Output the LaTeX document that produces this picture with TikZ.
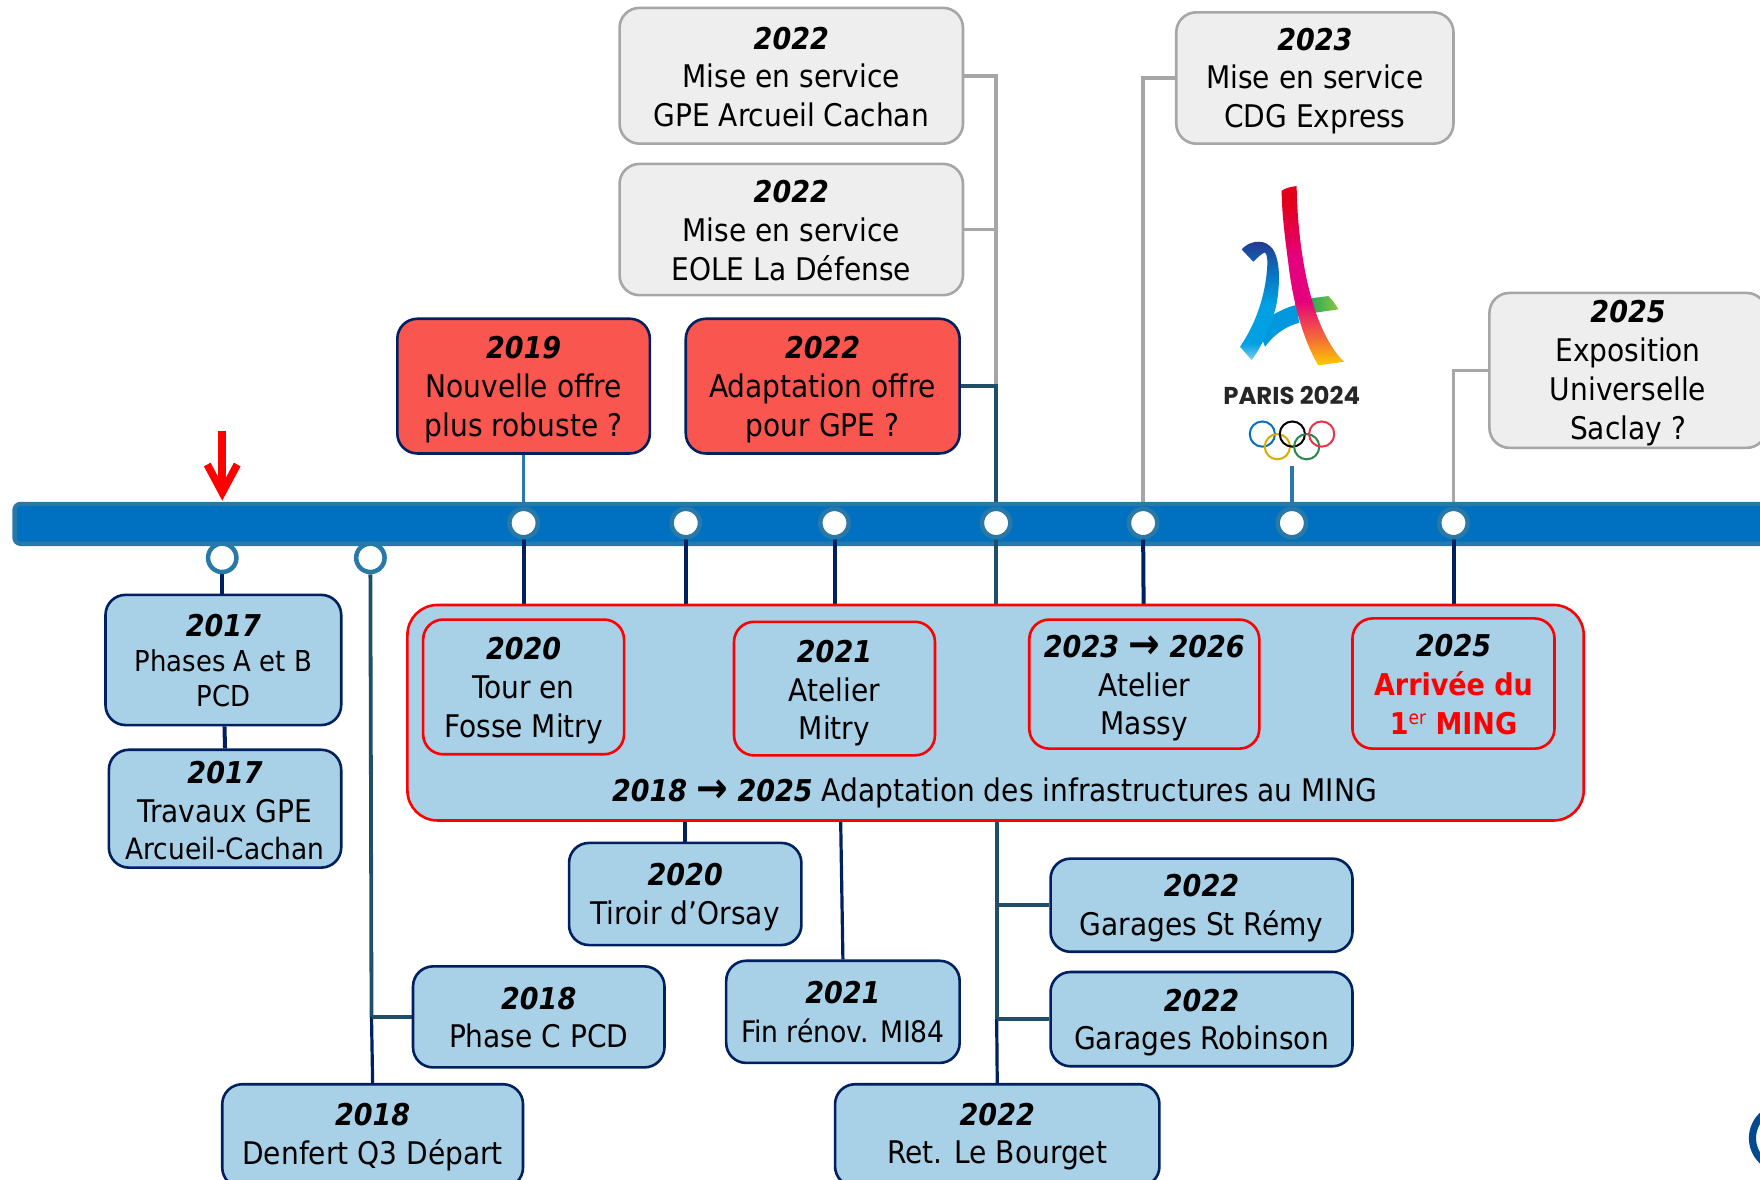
\documentclass[tikz,border=0pt]{standalone}
\usepackage{fontspec}
\setmainfont{DejaVu Sans Condensed}
\newfontfamily\popf{Poppins}
\usetikzlibrary{arrows.meta}
\pgfdeclarelayer{upperc}\pgfdeclarelayer{barl}\pgfdeclarelayer{lowerc}
\pgfsetlayers{upperc,barl,lowerc,main}
\definecolor{navy}{HTML}{002060}
\definecolor{teal1}{HTML}{2878A8}
\definecolor{teal2}{HTML}{1F4E68}
\definecolor{gline}{HTML}{A6A6A6}
\definecolor{gfill}{HTML}{EEEEEE}
\definecolor{rfill}{HTML}{F95650}
\definecolor{bfill}{HTML}{A8D0E6}
\definecolor{barblue}{HTML}{0070C0}
\definecolor{ringblue}{HTML}{004A8F}
\definecolor{lr1}{HTML}{E3001B}\definecolor{lr2}{HTML}{E5007D}\definecolor{lr3}{HTML}{F4663A}\definecolor{lr4}{HTML}{FFCC00}
\definecolor{lb1}{HTML}{27348B}\definecolor{lb2}{HTML}{0A6EBD}\definecolor{lb3}{HTML}{00A0E2}\definecolor{lb4}{HTML}{7FCDF0}
\definecolor{lg1}{HTML}{0FA3B1}\definecolor{lg2}{HTML}{2FAA5A}\definecolor{lg3}{HTML}{8CC63F}
\pgfdeclareverticalshading{redrib}{100bp}{color(0bp)=(lr4);color(25bp)=(lr4);color(33bp)=(lr3);color(43bp)=(lr2);color(55bp)=(lr2);color(70bp)=(lr1);color(100bp)=(lr1)}
\pgfdeclareverticalshading{blurib}{100bp}{color(0bp)=(lb4);color(25bp)=(lb4);color(32bp)=(lb3);color(48bp)=(lb3);color(62bp)=(lb2);color(75bp)=(lb1);color(100bp)=(lb1)}
\pgfdeclarehorizontalshading{grnrib}{100bp}{color(0bp)=(lg1);color(25bp)=(lg1);color(45bp)=(lg2);color(75bp)=(lg3);color(100bp)=(lg3)}
\newcommand\fa{\fontsize{15.6}{19.4}\selectfont}
\newcommand\fb{\fontsize{14.4}{17.6}\selectfont}
\newcommand\fy{\fontsize{15}{19.4}\selectfont}
\newcommand\yr[1]{{\fy\bfseries\itshape #1}}
\newcommand\barr{{\fontsize{21}{10}\selectfont\raisebox{-0.8pt}{→}}}
\newcommand\dn[1]{\rule{0pt}{\dimexpr 11.3pt+#1\dimexpr 1.1224pt\relax\relax}}
\newcommand\bx[7]{%
 \pgfmathsetmacro\bw{(#4-#2)*0.5612}\pgfmathsetmacro\bh{(#5-#3)*0.5612}%
 \node[#6,minimum width=\bw pt,minimum height=\bh pt] (#1) at ({(#2+#4)/2},{(#3+#5)/2}) {#7};}
\tikzset{
 basebox/.style={rectangle,rounded corners=10pt,line width=1.3pt,inner sep=0pt,align=center,font=\fa,text=black},
 greybox/.style={basebox,draw=gline,fill=gfill},
 redbox/.style={basebox,draw=navy,fill=rfill},
 bluebox/.style={basebox,draw=navy,fill=bfill},
 inbox/.style={basebox,draw=red,fill=bfill},
 bigbox/.style={basebox,rounded corners=15pt,draw=red,fill=bfill},
 stop/.style={circle,draw=teal1,fill=white,line width=2.25pt,minimum size=14.2pt,inner sep=0pt},
 gl/.style={draw=gline,line width=1.8pt},
 nl/.style={draw=navy,line width=2pt},
 nlt/.style={draw=navy,line width=1.6pt},
 tl/.style={draw=teal2,line width=1.9pt},
 cl/.style={draw=teal1,line width=1.9pt},
}
\begin{document}
\begin{tikzpicture}[x=0.5612pt,y=-0.5612pt]
\useasboundingbox (0,0) rectangle (1568.1,1051.3);
% timeline
\begin{pgfonlayer}{barl}
\bx{bar}{13}{449}{1600}{484.5}{rectangle,rounded corners=3pt,draw=teal1,fill=barblue,line width=2.2pt}{}
\end{pgfonlayer}
\foreach \n/\xx in {c19/466.5,c20/611,c21/743.5,c22/887.5,c23/1018.5,c24/1151,c25/1295}
  \node[stop] (\n) at (\xx,466) {};
\node[stop] (c17) at (198,497) {};
\node[stop] (c18) at (330,497) {};
% grey boxes
\bx{g1}{552}{7}{858}{128}{greybox}{\dn{1}\yr{2022}\\Mise en service\\GPE Arcueil Cachan}
\bx{g2}{552}{146}{858}{263}{greybox}{\dn{1}\yr{2022}\\Mise en service\\EOLE La Défense}
\bx{g3}{1048}{11}{1295}{128}{greybox}{\dn{2.5}\yr{2023}\\Mise en service\\CDG Express}
\bx{g4}{1327}{261}{1574}{399}{greybox}{\dn{2.2}\yr{2025}\\Exposition\\Universelle\\Saclay ?}
% red boxes
\bx{r1}{354}{284}{579}{404}{redbox}{\dn{3}\yr{2019}\\Nouvelle of{}fre\\plus robuste ?}
\bx{r2}{611}{284}{855}{404}{redbox}{\dn{3}\yr{2022}\\Adaptation of{}fre\\pour GPE ?}
% left blue
\bx{a1}{94}{530}{304}{646}{bluebox,font=\fb}{\dn{0.3}\yr{2017}\\Phases A et B\\PCD}
\bx{a2}{97}{668}{304}{773}{bluebox}{\dn{1.5}\yr{2017}\\T{}ravaux GPE\\[-1.1pt]{\fontsize{14.7}{17.6}\selectfont Arcueil-Cachan}}
% big box
\bx{big}{363}{539}{1411}{731}{bigbox}{}
\node[font=\fa] (bigt) at (886,706) {\yr{2018 \barr{} 2025} Adaptation des infrastructures au MING};
\bx{i1}{377}{552}{556}{672}{inbox}{\dn{3}\yr{2020}\\T{}our en\\Fosse Mitry}
\bx{i2}{654}{554}{833}{673}{inbox}{\dn{4}\yr{2021}\\Atelier\\Mitry}
\bx{i3}{917}{552}{1122}{667}{inbox}{\dn{3.5}\yr{2023 \barr{} 2026}\\Atelier\\Massy}
\bx{i4}{1205}{551}{1385}{667}{inbox}{\dn{1}\yr{2025}\\{\fy\textcolor{red}{\bfseries Arrivée du}}\\{\fy\textcolor{red}{\bfseries 1\raisebox{5pt}{\fontsize{9.5}{10}\selectfont\mdseries er} MING}}}
% lower blue
\bx{b1}{507}{751}{714}{842}{bluebox}{\dn{2.5}\yr{2020}\\T{}iroir d’Orsay}
\bx{b2}{368}{861}{592}{951}{bluebox}{\dn{0.5}\yr{2018}\\Phase C PCD}
\bx{b3}{198}{966}{466}{1058}{bluebox}{\dn{1}\yr{2018}\\Denfert Q3 Départ}
\bx{b4}{647}{856}{855}{947}{bluebox}{\dn{0.2}\yr{2021}\\{\fontsize{14.8}{19}\selectfont Fin rénov. MI84}}
\bx{b5}{936}{765}{1205}{848}{bluebox}{\dn{2.5}\yr{2022}\\Garages St Rémy}
\bx{b6}{936}{866}{1205}{950}{bluebox}{\dn{3}\yr{2022}\\Garages Robinson}
\bx{b7}{744}{966}{1033}{1057}{bluebox}{\dn{1}\yr{2022}\\Ret. Le Bourget}
% bottom-right partial ring
\node[circle,draw=ringblue,line width=3.6pt,minimum size=31pt,inner sep=0pt] (ringc) at (1589,1014) {};
% red arrow
\coordinate (ars) at (198,384);
\coordinate (are) at (198,446);
\draw[red,line width=3.8pt,-{Straight Barb[length=14pt,width=15pt]}] (ars) -- (are);
% connectors above the bar
\coordinate (logoend) at (1151,415);
\begin{pgfonlayer}{upperc}
\draw[gl] (g1.east) -| (c22.center);
\draw[gl] (g2.east) -- (g2.east -| c22);
\draw[tl] (r2.east) -| (c22.center);
\draw[gl] (g3.west) -| (c23.center);
\draw[gl] (g4.west |- 0,330) -| (c25.center);
\draw[cl] (r1.south -| c19) -- (c19.center);
\draw[cl] (logoend) -- (c24.center);
\end{pgfonlayer}
% connectors below the bar
\coordinate (j1) at (331,906);
\coordinate (j2) at (888,806);
\coordinate (j3) at (888,908);
\coordinate (m21) at (749,731);
\begin{pgfonlayer}{lowerc}
\draw[nl] (c17.south) -- (a1.north -| c17);
\draw[nl] (a1.south -| 200,0) -- (a2.north);
\draw[tl] (c18.south) -- (j1);
\draw[nlt] (j1) -- (b3.north);
\draw[tl] (j1) -- (b2.west);
\draw[nl] (c19.south) -- (i1.north);
\draw[nl] (c20.south) -- (big.north -| c20);
\draw[nl] (c21.south) -- (i2.north);
\draw[tl] (c22.south) -- (big.north -| c22);
\draw[nl] (c23.south) -- (i3.north -| 1019,0);
\draw[nl] (c25.south) -- (i4.north -| c25);
\draw[nl] (b1.north) -- (big.south -| b1);
\draw[nlt] (m21) -- (b4.north);
\draw[tl] (big.south -| j2) -- (j3);
\draw[nlt] (j3) -- (b7.north);
\draw[tl] (j2) -- (j2 -| b5.west);
\draw[tl] (j3) -- (j3 -| b6.west);
\end{pgfonlayer}
% Paris 2024 logo
\begin{scope}[shift={(1024.6,142.6)},x=0.16667pt,y=-0.16667pt]
 \path[shading=grnrib] (436,425) -- (480,415) -- (535,408) .. controls (548,420) and (558,435) .. (565,448) -- (495,458) -- (442,470) -- cycle;
 \fill[lb3!85!lb2] (372,462) .. controls (395,450) and (415,440) .. (438,435) -- (448,488) .. controls (410,498) and (375,520) .. (345,560) -- (330,520) -- cycle;
 \path[shading=blurib] (275,268) .. controls (295,245) and (335,235) .. (360,258) .. controls (392,285) and (392,370) .. (378,440) .. controls (362,500) and (335,560) .. (305,600) -- (270,560) .. controls (312,500) and (342,420) .. (350,340) .. controls (354,300) and (352,285) .. (345,277) .. controls (335,280) and (320,295) .. (310,305) -- cycle;
 \path[shading=redrib] (395,92) .. controls (410,82) and (425,80) .. (440,78) .. controls (441,180) and (455,330) .. (495,450) .. controls (515,510) and (545,570) .. (582,605) -- (505,616) .. controls (465,550) and (430,440) .. (415,310) .. controls (403,220) and (395,150) .. (395,92) -- cycle;
 \node[font=\popf\bfseries\fontsize{12.2}{14}\selectfont,text=black!85,inner sep=0pt] (logot) at (425,705) {PARIS 2024};
 \foreach \cc/\xx/\yy in {lb2/337/822,lr4!85!black/382/860,black/427/822,lg2!80!black/470/860,lr1!80!white/515/822}
   \draw[\cc,line width=1pt] (\xx,\yy) circle[radius=6.3pt];
\end{scope}
\end{tikzpicture}
\end{document}
